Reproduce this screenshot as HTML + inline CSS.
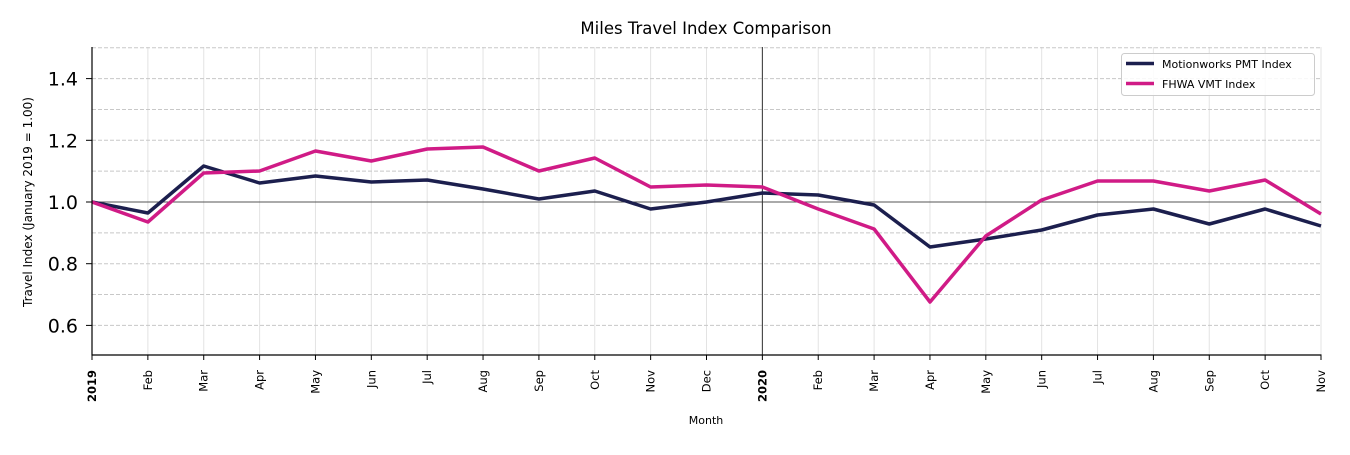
<!DOCTYPE html>
<html><head><meta charset="utf-8"><style>
body{margin:0;background:#fff;}
svg text{font-family:"DejaVu Sans","Liberation Sans",sans-serif;}
</style></head><body>
<svg id="c" width="1350" height="450" xmlns="http://www.w3.org/2000/svg"></svg>
<script>
const s=document.getElementById('c');
const X0=92,dx=(1321-92)/22;
const Y=v=>202-(v-1)*308.5;
let h='<rect width="1350" height="450" fill="#fff"/>';
h+='<text x="706" y="34" font-size="16.5" text-anchor="middle" fill="#000">Miles Travel Index Comparison</text>';
for(let i=0;i<23;i++){const x=X0+i*dx;h+=`<line x1="${x}" y1="47" x2="${x}" y2="355" stroke="#e3e3e3" stroke-width="1"/>`;}
for(let k=0;k<=10;k++){const v=0.5+k*0.1;const y=Y(v);if(k>0)h+=`<line x1="92" y1="${y}" x2="1321" y2="${y}" stroke="#c8c8c8" stroke-dasharray="4,2" stroke-width="1"/>`;}
h+=`<line x1="92" y1="${Y(1)}" x2="1321" y2="${Y(1)}" stroke="#555" stroke-width="1"/>`;
h+=`<line x1="${X0+12*dx}" y1="47" x2="${X0+12*dx}" y2="355" stroke="#333" stroke-width="1"/>`;
const nv=[202,213,166,183,176,182,180,189,199,191,209,202,193,195,205,247,239,230,215,209,224,209,226];
const pk=[202,222,173,171,151,161,149,147,171,158,187,185,187,209,229,302,236,200,181,181,191,180,214];
const path=(a,c)=>`<polyline fill="none" stroke="${c}" stroke-width="3.5" stroke-linejoin="round" points="${a.map((y,i)=>(X0+i*dx).toFixed(1)+','+y).join(' ')}"/>`;
h+=path(nv,'#1c1f4e')+path(pk,'#d01b86');
h+='<line x1="92" y1="47" x2="92" y2="355.5" stroke="#000" stroke-width="1.2"/><line x1="91.5" y1="355" x2="1321.5" y2="355" stroke="#000" stroke-width="1.2"/>';
[0.6,0.8,1.0,1.2,1.4].forEach(v=>{const y=Y(v);h+=`<line x1="86" y1="${y}" x2="92" y2="${y}" stroke="#000"/><text x="78" y="${y+7}" font-size="19" text-anchor="end">${v.toFixed(1)}</text>`;});
const m=['2019','Feb','Mar','Apr','May','Jun','Jul','Aug','Sep','Oct','Nov','Dec','2020','Feb','Mar','Apr','May','Jun','Jul','Aug','Sep','Oct','Nov'];
m.forEach((t,i)=>{const x=X0+i*dx;const b=t.length==4;h+=`<line x1="${x}" y1="355" x2="${x}" y2="360" stroke="#000"/><text transform="translate(${x+4},370) rotate(-90)" font-size="11.5" text-anchor="end" ${b?'font-weight="bold"':''}>${t}</text>`;});
h+='<text x="706" y="424" font-size="11" text-anchor="middle">Month</text>';
h+='<text transform="translate(32,202) rotate(-90)" font-size="12" text-anchor="middle">Travel Index (January 2019 = 1.00)</text>';
h+='<rect x="1121.5" y="53.5" width="193" height="42" rx="3" fill="#fff" fill-opacity="0.85" stroke="#ccc"/>';
h+='<line x1="1126" y1="63.5" x2="1154" y2="63.5" stroke="#1c1f4e" stroke-width="3.5"/><text x="1162" y="68" font-size="11">Motionworks PMT Index</text>';
h+='<line x1="1126" y1="83.5" x2="1154" y2="83.5" stroke="#d01b86" stroke-width="3.5"/><text x="1162" y="88" font-size="11">FHWA VMT Index</text>';
s.innerHTML=h;
</script>
</body></html>
